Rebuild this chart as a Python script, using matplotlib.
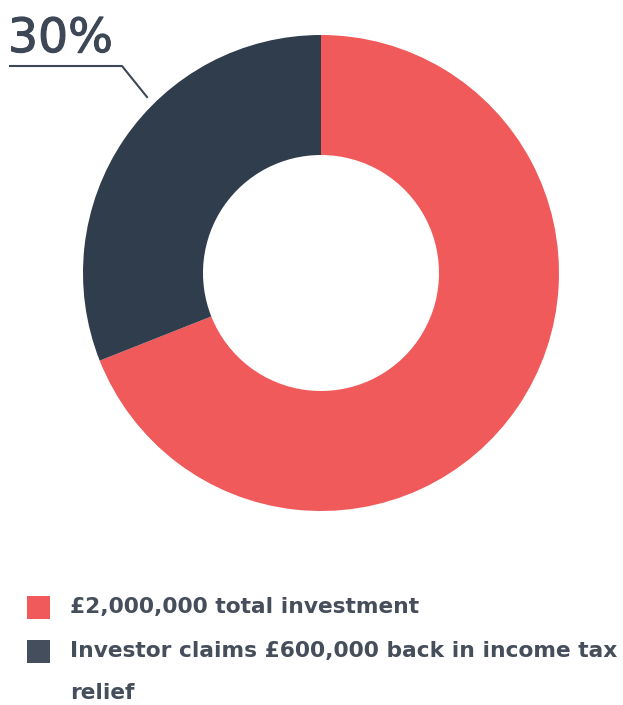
import matplotlib.pyplot as plt
import matplotlib.patheffects as pe
from matplotlib.patches import Rectangle

labels = ['£2,000,000 total investment', 'Investor claims £600,000 back in income tax']
label_wrap = 'relief'
values = [69, 31]
colors = ['#F05A5A', '#2F3D4C']
legend_colors = ['#F05A5A', '#444E5C']
callout = '30%'

fig = plt.figure(figsize=(6.23, 7.05), dpi=100)
ax = fig.add_axes([0, 0, 1, 1])

# y axis runs downward (pixel-like), so angles go the other way round
ax.pie(values, colors=colors, startangle=-90, counterclock=True,
       center=(321, 273), radius=238, frame=True,
       wedgeprops=dict(width=120, edgecolor='none'))
ax.set_xlim(0, 623)
ax.set_ylim(705, 0)
ax.set_aspect('equal')
ax.axis('off')

# callout for the small slice
ax.plot([147, 122, 10], [97, 66, 66], color='#3D4756', lw=1.5)
ax.text(8, 52, callout, fontsize=34, color='#3D4756', family='DejaVu Sans',
        va='baseline', ha='left',
        path_effects=[pe.withStroke(linewidth=0.8, foreground='#3D4756')])

# legend
ys = [607, 651]
for lab, c, y in zip(labels, legend_colors, ys):
    ax.add_patch(Rectangle((27, y - 11.5), 23, 23, color=c, lw=0))
    ax.text(70, y, lab, fontsize=15.7, color='#454E5A', family='DejaVu Sans',
            fontweight='semibold', va='center', ha='left')
ax.text(70, 693, label_wrap, fontsize=15.7, color='#454E5A', family='DejaVu Sans',
        fontweight='semibold', va='center', ha='left')

fig.savefig('out.png', dpi=100)
